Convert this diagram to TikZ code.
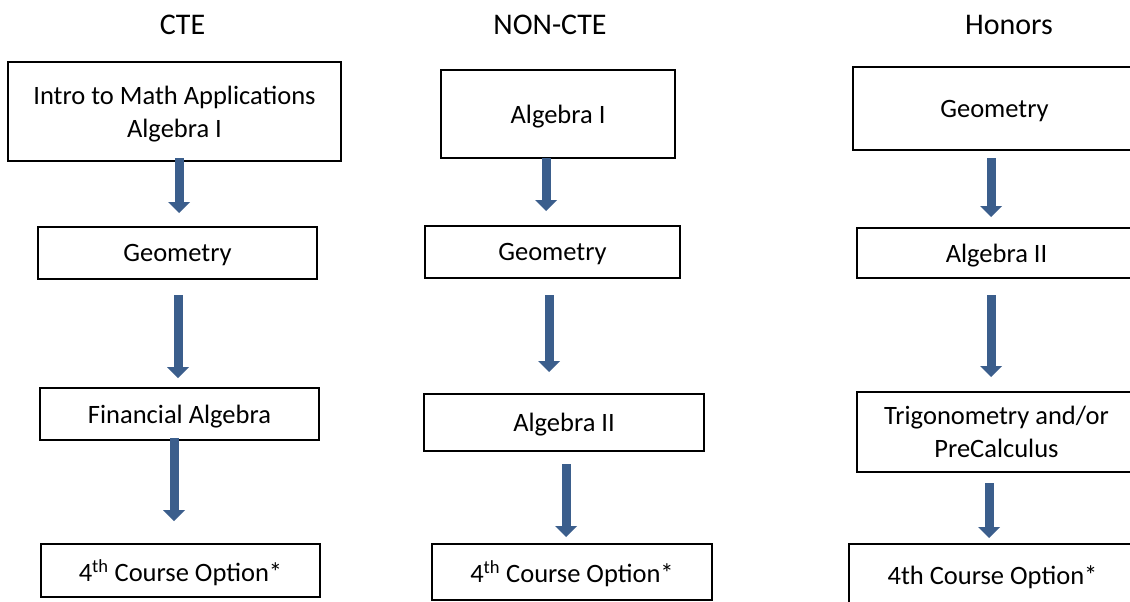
\documentclass[tikz,border=0pt]{standalone}
\usepackage{fontspec}
\setmainfont{Carlito}
\usetikzlibrary{arrows.meta}
\definecolor{arrowblue}{RGB}{59,94,140}
\begin{document}
\begin{tikzpicture}[x=1pt,y=-1pt,
  box/.style={draw=black, line width=1.6pt, inner sep=0pt, align=center, text depth=0pt, font=\fontsize{26.5}{33}\selectfont},
  head/.style={font=\fontsize{30}{36}\selectfont, inner sep=0pt, anchor=base},
  flow/.style={draw=arrowblue, line width=9pt, -{Triangle[width=22pt,length=11pt,line width=0pt]}}]
\path[use as bounding box] (0,0) rectangle (1130,602);
\clip (0,0) rectangle (1130,602);
\fill[white] (0,0) rectangle (1130,602);

% headers
\node[head] (hcte) at (182.5,35) {CTE};
\node[head] (hnon) at (550,35) {NON-CTE};
\node[head] (hhon) at (1009,35) {Honors};

% CTE column
\node[box, minimum width=333pt, minimum height=99pt] (a1) at (174.5,111.5) {Intro to Math Applications\\Algebra I};
\node[box, minimum width=279pt, minimum height=52pt] (a2) at (177.5,253) {Geometry};
\node[box, minimum width=279pt, minimum height=52pt] (a3) at (179.5,414) {Financial Algebra};
\node[box, minimum width=279pt, minimum height=53pt] (a4) at (180.5,570.5) {4\textsuperscript{th} Course Option*};

% NON-CTE column
\node[box, minimum width=234pt, minimum height=88pt] (b1) at (558,114) {Algebra I};
\node[box, minimum width=255pt, minimum height=52pt] (b2) at (552.5,252) {Geometry};
\node[box, minimum width=280pt, minimum height=57pt] (b3) at (564,422.5) {Algebra II};
\node[box, minimum width=280pt, minimum height=56pt] (b4) at (572,572) {4\textsuperscript{th} Course Option*};

% Honors column
\node[box, minimum width=283pt, minimum height=83pt] (c1) at (994.5,108.5) {Geometry};
\node[box, minimum width=279pt, minimum height=50pt] (c2) at (996.5,253) {Algebra II};
\node[box, minimum width=279pt, minimum height=80pt] (c3) at (996.5,432) {Trigonometry and/or\\PreCalculus};
\node[box, minimum width=287pt, minimum height=62pt] (c4) at (992.5,575) {4th Course Option*};

% arrow end points
\coordinate (a12s) at (179,158);  \coordinate (a12e) at (179,213);
\coordinate (a23s) at (178,295);  \coordinate (a23e) at (178,378);
\coordinate (a34s) at (174,438);  \coordinate (a34e) at (174,521);
\coordinate (b12s) at (546,158);  \coordinate (b12e) at (546,211);
\coordinate (b23s) at (549,295);  \coordinate (b23e) at (549,372);
\coordinate (b34s) at (566,464);  \coordinate (b34e) at (566,537);
\coordinate (c12s) at (991,158);  \coordinate (c12e) at (991,217);
\coordinate (c23s) at (991,295);  \coordinate (c23e) at (991,377);
\coordinate (c34s) at (989,483);  \coordinate (c34e) at (989,538);

\draw[flow] (a12s) -- (a12e);
\draw[flow] (a23s) -- (a23e);
\draw[flow] (a34s) -- (a34e);
\draw[flow] (b12s) -- (b12e);
\draw[flow] (b23s) -- (b23e);
\draw[flow] (b34s) -- (b34e);
\draw[flow] (c12s) -- (c12e);
\draw[flow] (c23s) -- (c23e);
\draw[flow] (c34s) -- (c34e);
\end{tikzpicture}
\end{document}
